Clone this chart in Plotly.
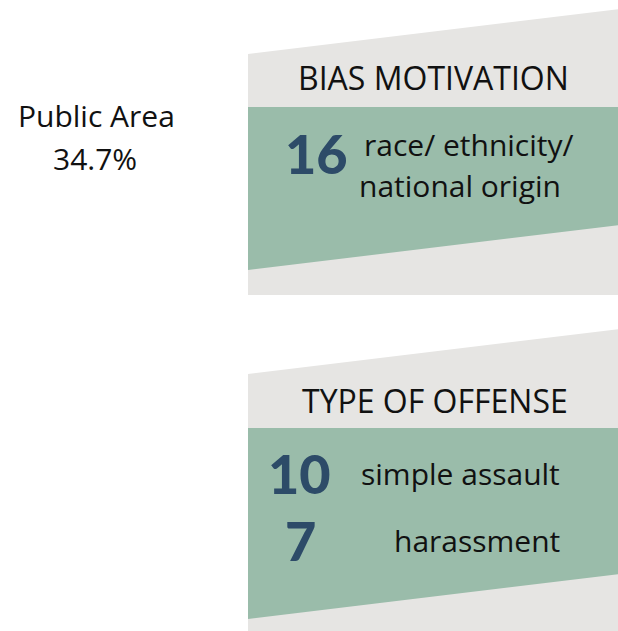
import plotly.graph_objects as go

# ---- data ----
location_label = "Public Area"
location_share = 34.7  # percent

panel_titles = ["BIAS MOTIVATION", "TYPE OF OFFENSE"]
bias_counts = [16]
bias_label_lines = ["race/ ethnicity/", "national origin"]
offense_counts = [10, 7]
offense_labels = ["simple assault", "harassment"]

# ---- style ----
GRAY = "#e6e5e3"
GREEN = "#9abcaa"
NAVY = "#2d4b68"
TXT = "#111111"
FONT = "Open Sans"
NUMFONT = "Lato"

W, H = 618, 631
fig = go.Figure()

shapes = []
panels = [
    dict(gtop_l=54, gtop_r=9, gbot=295, ntop=107, nbot_l=270, nbot_r=225),
    dict(gtop_l=374, gtop_r=329, gbot=640, ntop=428, nbot_l=619, nbot_r=574),
]
XL, XR = 248, 620
for p in panels:
    shapes.append(dict(type="path", xref="x", yref="y",
                       path=f"M{XL},{p['gtop_l']} L{XR},{p['gtop_r']} L{XR},{p['gbot']} L{XL},{p['gbot']} Z",
                       fillcolor=GRAY, line=dict(width=0), layer="below"))
    shapes.append(dict(type="path", xref="x", yref="y",
                       path=f"M{XL},{p['ntop']} L{XR},{p['ntop']} L{XR},{p['nbot_r']} L{XL},{p['nbot_l']} Z",
                       fillcolor=GREEN, line=dict(width=0), layer="below"))

ann = []
def text(x, y, s, size=30, color=TXT, family=FONT, xanchor="center", weight="normal"):
    ann.append(dict(x=x, y=y, xref="x", yref="y", text=s, showarrow=False,
                    xanchor=xanchor, yanchor="middle", align="center",
                    font=dict(family=family, size=size, color=color, weight=weight)))

text(96, 115, location_label, size=30)
text(95, 158, f"{location_share:.1f}%", size=30)

text(433, 77, panel_titles[0], size=32)
text(316, 153, str(bias_counts[0]), size=54, color=NAVY, family=NUMFONT, weight=900)
text(469, 144, bias_label_lines[0], size=30)
text(460, 185, bias_label_lines[1], size=30)

text(435, 400, panel_titles[1], size=32)
num_y = [473, 540]
num_x = [299, 300]
for i, (c, lab) in enumerate(zip(offense_counts, offense_labels)):
    text(num_x[i], num_y[i], str(c), size=54, color=NAVY, family=NUMFONT, weight=900)
    text(562, num_y[i], lab, size=30, xanchor="right")

fig.update_layout(
    width=W, height=H, margin=dict(l=0, r=0, t=0, b=0),
    paper_bgcolor="white", plot_bgcolor="white",
    xaxis=dict(range=[0, W], visible=False, fixedrange=True),
    yaxis=dict(range=[H, 0], visible=False, fixedrange=True),
    shapes=shapes, annotations=ann, showlegend=False,
)
fig.write_html("out.html", config={"displayModeBar": False},
               post_script="document.body.style.margin='0';document.body.style.overflow='hidden';")
